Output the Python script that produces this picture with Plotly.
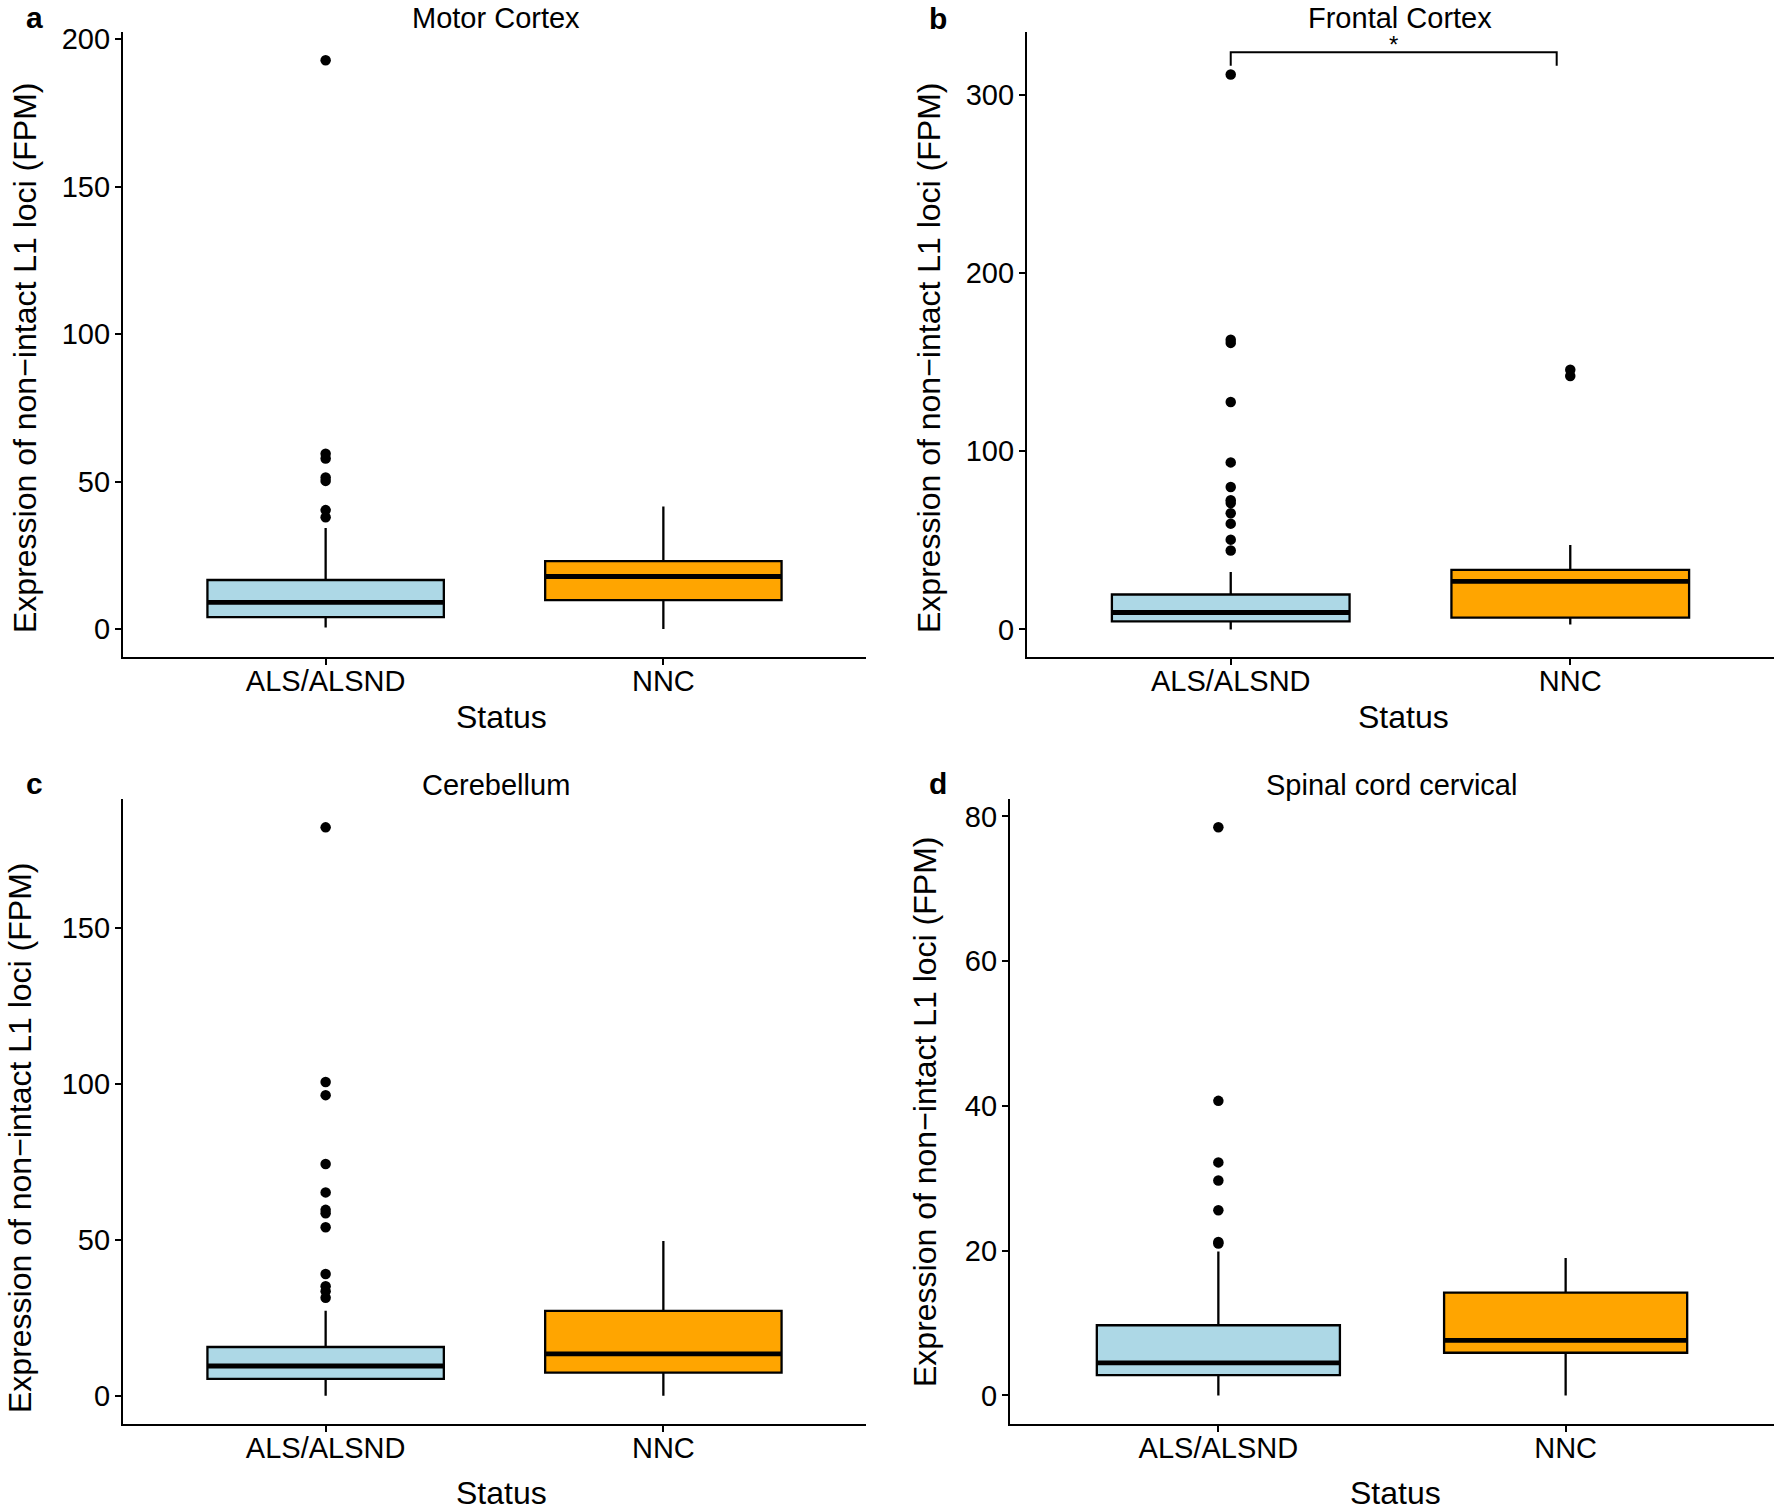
import plotly.graph_objects as go

W, H = 1774, 1512

categories = ["ALS/ALSND", "NNC"]
panel_titles = ["Motor Cortex", "Frontal Cortex", "Cerebellum", "Spinal cord cervical"]
panel_letters = ["a", "b", "c", "d"]

# box statistics per panel: [ALS/ALSND, NNC]
q1_vals = [[4.0, 9.8], [4.5, 6.6], [5.4, 7.4], [2.8, 5.9]]
median_vals = [[9.0, 17.8], [9.5, 27.0], [9.5, 13.4], [4.5, 7.6]]
q3_vals = [[16.6, 23.0], [19.6, 33.4], [15.6, 27.2], [9.7, 14.2]]
lower_vals = [[0.5, 0.0], [0.0, 2.7], [0.0, 0.0], [0.0, 0.0]]
upper_vals = [[34.2, 41.5], [32.3, 47.4], [27.2, 49.6], [19.9, 19.0]]

# outliers per panel
als_outliers = [
    [192.8, 59.4, 57.8, 51.4, 50.2, 40.3, 37.9],
    [311.6, 162.7, 160.9, 127.7, 93.8, 80.0, 72.6, 71.0, 65.2, 59.4, 50.4, 44.3],
    [182.3, 100.6, 96.4, 74.3, 65.2, 59.6, 58.5, 54.0, 39.0, 35.1, 33.5, 31.4],
    [78.5, 40.7, 32.2, 29.7, 25.6, 21.2, 21.0],
]
nnc_outliers = [[], [145.8, 142.3], [], []]

y_ticks = [[0, 50, 100, 150, 200], [0, 100, 200, 300], [0, 50, 100, 150], [0, 20, 40, 60, 80]]
y_ranges = [[-9.5, 202.4], [-15.5, 335.5], [-9.1, 191.4], [-3.94, 82.4]]

# significance bracket (panel b)
sig_bracket_y = [316.6, 324.1]
sig_label = "*"

fill_colors = ["#ADD8E6", "#FFA500"]
FONT = "Liberation Sans, Arial, sans-serif"

# panel geometry in pixels: (x0, x1, ytop, ybottom)
geom = [(123, 866, 32, 657), (1027, 1774, 32, 657), (123, 866, 799, 1424), (1010, 1774, 799, 1424)]

fig = go.Figure()
layout = {}
annotations = []
BW = 0.7

for p in range(4):
    xa = "x" if p == 0 else f"x{p+1}"
    ya = "y" if p == 0 else f"y{p+1}"
    xkey = "xaxis" if p == 0 else f"xaxis{p+1}"
    ykey = "yaxis" if p == 0 else f"yaxis{p+1}"
    x0, x1, yt, yb = geom[p]
    for c in range(2):
        fig.add_trace(go.Box(
            x=[c], q1=[q1_vals[p][c]], median=[median_vals[p][c]], q3=[q3_vals[p][c]],
            lowerfence=[lower_vals[p][c]], upperfence=[upper_vals[p][c]],
            width=BW, fillcolor=fill_colors[c], line=dict(color="black", width=2.3),
            boxpoints=False, whiskerwidth=0, xaxis=xa, yaxis=ya, showlegend=False,
            hoverinfo="skip"))
        fig.add_trace(go.Scatter(
            x=[c - BW / 2, c + BW / 2], y=[median_vals[p][c]] * 2, mode="lines",
            line=dict(color="black", width=4.8), xaxis=xa, yaxis=ya, showlegend=False,
            hoverinfo="skip"))
        outs = als_outliers[p] if c == 0 else nnc_outliers[p]
        if outs:
            fig.add_trace(go.Scatter(
                x=[c] * len(outs), y=outs, mode="markers",
                marker=dict(color="black", size=10.5), xaxis=xa, yaxis=ya,
                showlegend=False, hoverinfo="skip"))
    layout[xkey] = dict(
        domain=[x0 / W, x1 / W], anchor=ya, range=[-0.6, 1.6], automargin=False,
        tickvals=[0, 1], ticktext=categories, showline=True, linecolor="black",
        linewidth=2.3, ticks="outside", ticklen=6, tickwidth=2.2, tickcolor="black",
        showgrid=False, zeroline=False, ticklabelstandoff=-9,
        tickfont=dict(family=FONT, size=29, color="black"))
    layout[ykey] = dict(
        domain=[1 - yb / H, 1 - yt / H], anchor=xa, range=y_ranges[p], automargin=False,
        tickvals=y_ticks[p], ticktext=[str(t) for t in y_ticks[p]], showline=True,
        linecolor="black", linewidth=2.3, ticks="outside", ticklen=6, tickwidth=2.2,
        tickcolor="black", showgrid=False, zeroline=False, ticklabelstandoff=-1,
        tickfont=dict(family=FONT, size=29, color="black"))

# significance bracket
fig.add_trace(go.Scatter(
    x=[0, 0, 0.96, 0.96], y=[sig_bracket_y[0], sig_bracket_y[1], sig_bracket_y[1], sig_bracket_y[0]],
    mode="lines", line=dict(color="black", width=2), xaxis="x2", yaxis="y2",
    showlegend=False, hoverinfo="skip"))
annotations.append(dict(x=0.48, y=sig_bracket_y[1], xref="x2", yref="y2", text=sig_label,
                        showarrow=False, yanchor="bottom", yshift=-8,
                        font=dict(family=FONT, size=24, color="black")))

# panel titles, letters, axis titles
title_pos = [(496, 18), (1400, 18), (496, 785), (1391, 785)]
letter_pos = [(34, 17), (938, 19), (34, 783), (938, 783)]
status_pos = [(501, 717), (1403, 717), (501, 1493), (1395, 1493)]
ytitle_pos = [(25, 358), (929, 358), (20, 1138), (925, 1112)]

for p in range(4):
    tx, ty = title_pos[p]
    annotations.append(dict(x=tx / W, y=1 - ty / H, xref="paper", yref="paper",
                            text=panel_titles[p], showarrow=False, xanchor="center",
                            yanchor="middle", font=dict(family=FONT, size=29, color="black")))
    lx, ly = letter_pos[p]
    annotations.append(dict(x=lx / W, y=1 - ly / H, xref="paper", yref="paper",
                            text="<b>" + panel_letters[p] + "</b>", showarrow=False,
                            xanchor="center", yanchor="middle",
                            font=dict(family=FONT, size=30, color="black")))
    sx, sy = status_pos[p]
    annotations.append(dict(x=sx / W, y=1 - sy / H, xref="paper", yref="paper",
                            text="Status", showarrow=False, xanchor="center",
                            yanchor="middle", font=dict(family=FONT, size=32, color="black")))
    yx, yy = ytitle_pos[p]
    annotations.append(dict(x=yx / W, y=1 - yy / H, xref="paper", yref="paper",
                            text="Expression of non\u2212intact L1 loci (FPM)", textangle=-90,
                            showarrow=False, xanchor="center", yanchor="middle",
                            font=dict(family=FONT, size=32, color="black")))

fig.update_layout(width=W, height=H, margin=dict(l=0, r=0, t=0, b=0, pad=0, autoexpand=False),
                  plot_bgcolor="white", paper_bgcolor="white",
                  annotations=annotations, **layout)

fig.write_html(
    "out.html",
    config={"displayModeBar": False},
    post_script=(
        "document.documentElement.style.margin='0';"
        "document.documentElement.style.overflow='hidden';"
        "document.body.style.margin='0';document.body.style.padding='0';"
        "var gd=document.getElementById('{plot_id}');"
        "gd.style.position='fixed';gd.style.left='0px';gd.style.top='0px';"
    ),
)
